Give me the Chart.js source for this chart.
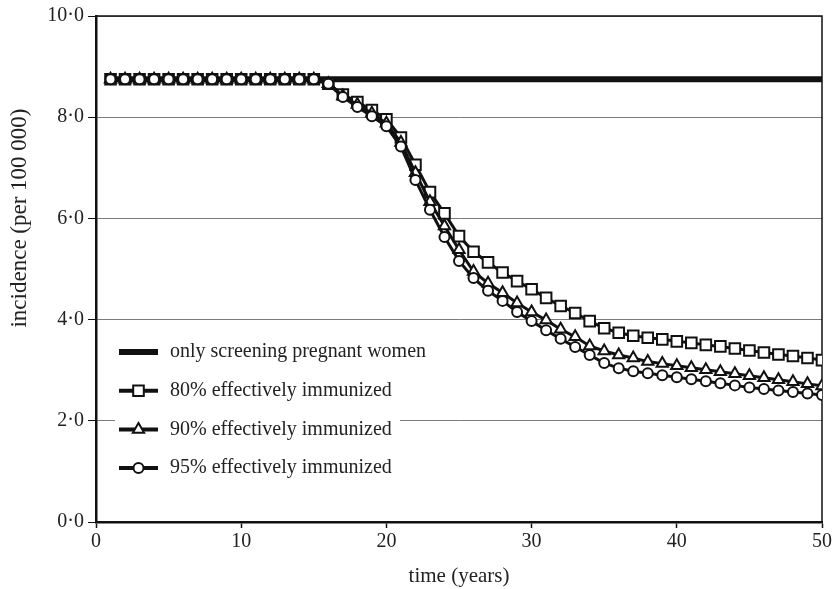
<!DOCTYPE html>
<html>
<head>
<meta charset="utf-8">
<script src="https://cdn.jsdelivr.net/npm/chart.js@4/dist/chart.umd.min.js"></script>
<style>
  html, body { margin: 0; padding: 0; background: #fff; }
  #wrap { width: 836px; height: 589px; position: relative; }
</style>
</head>
<body>
<div id="wrap"><canvas id="incidence-chart"></canvas></div>
<script>
const years = [
  1, 2, 3, 4, 5, 6, 7, 8, 9, 10, 11, 12, 13, 14, 15, 16, 17, 18, 19, 20, 21, 22, 23, 24, 25,
  26, 27, 28, 29, 30, 31, 32, 33, 34, 35, 36, 37, 38, 39, 40, 41, 42, 43, 44, 45, 46, 47, 48, 49, 50,
];

const onlyScreening = [
  8.75, 8.75, 8.75, 8.75, 8.75, 8.75, 8.75, 8.75, 8.75, 8.75, 8.75, 8.75, 8.75, 8.75, 8.75, 8.75, 8.75,
  8.75, 8.75, 8.75, 8.75, 8.75, 8.75, 8.75, 8.75, 8.75, 8.75, 8.75, 8.75, 8.75, 8.75, 8.75, 8.75, 8.75,
  8.75, 8.75, 8.75, 8.75, 8.75, 8.75, 8.75, 8.75, 8.75, 8.75, 8.75, 8.75, 8.75, 8.75, 8.75, 8.75,
];

const immunized80 = [
  8.75, 8.75, 8.75, 8.75, 8.75, 8.75, 8.75, 8.75, 8.75, 8.75, 8.75, 8.75, 8.75, 8.75, 8.75,
  8.66, 8.45, 8.30, 8.14, 7.96, 7.60, 7.06, 6.52, 6.10, 5.65, 5.34, 5.13, 4.93, 4.76, 4.60,
  4.43, 4.27, 4.13, 3.97, 3.83, 3.74, 3.68, 3.64, 3.61, 3.57, 3.54, 3.50, 3.47, 3.43, 3.39,
  3.35, 3.31, 3.28, 3.24, 3.20,
];

const immunized90 = [
  8.75, 8.75, 8.75, 8.75, 8.75, 8.75, 8.75, 8.75, 8.75, 8.75, 8.75, 8.75, 8.75, 8.75, 8.75,
  8.66, 8.42, 8.25, 8.08, 7.88, 7.50, 6.90, 6.33, 5.85, 5.38, 4.95, 4.72, 4.53, 4.33, 4.15,
  3.99, 3.81, 3.66, 3.48, 3.38, 3.30, 3.24, 3.17, 3.13, 3.09, 3.05, 3.01, 2.97, 2.93, 2.89,
  2.85, 2.81, 2.77, 2.73, 2.69,
];

const immunized95 = [
  8.75, 8.75, 8.75, 8.75, 8.75, 8.75, 8.75, 8.75, 8.75, 8.75, 8.75, 8.75, 8.75, 8.75, 8.75,
  8.66, 8.40, 8.20, 8.02, 7.82, 7.42, 6.76, 6.17, 5.63, 5.16, 4.82, 4.57, 4.37, 4.15, 3.97,
  3.79, 3.62, 3.46, 3.30, 3.14, 3.04, 2.98, 2.94, 2.90, 2.86, 2.82, 2.78, 2.74, 2.70, 2.66,
  2.63, 2.60, 2.57, 2.54, 2.51,
];

const seriesLabels = [
  'only screening pregnant women',
  '80% effectively immunized',
  '90% effectively immunized',
  '95% effectively immunized',
];

const yTicks = [0, 2, 4, 6, 8, 10];
const xTicks = [0, 10, 20, 30, 40, 50];

const SERIF = "'Liberation Serif', 'Times New Roman', Times, serif";
const INK = '#111';

Chart.defaults.font.family = SERIF;
Chart.defaults.font.size = 20;
Chart.defaults.color = '#222';

function toPoints(values) {
  return years.map((year, i) => ({ x: year, y: values[i] }));
}

function formatIncidence(value) {
  return value.toFixed(1).replace('.', '\u00b7');
}

function drawMarker(ctx, style, x, y, r) {
  ctx.beginPath();
  if (style === 'rect') {
    const s = r * Math.SQRT1_2;
    ctx.rect(x - s, y - s, 2 * s, 2 * s);
  } else if (style === 'triangle') {
    ctx.moveTo(x, y - r);
    ctx.lineTo(x + r * 0.866, y + r * 0.5);
    ctx.lineTo(x - r * 0.866, y + r * 0.5);
    ctx.closePath();
  } else {
    ctx.arc(x, y, r, 0, Math.PI * 2);
  }
  ctx.fillStyle = '#fff';
  ctx.fill();
  ctx.stroke();
}

// top + right frame, the y title (sits above centre in the original) and the legend box
const framePlugin = {
  id: 'frame',
  beforeDatasetsDraw(chart) {
    const { ctx, chartArea } = chart;
    ctx.save();
    ctx.strokeStyle = INK;
    ctx.lineWidth = 1.5;
    ctx.beginPath();
    ctx.moveTo(chartArea.left, chartArea.top);
    ctx.lineTo(chartArea.right, chartArea.top);
    ctx.lineTo(chartArea.right, chartArea.bottom);
    ctx.stroke();

    ctx.translate(20, chartArea.top + 202);
    ctx.rotate(-Math.PI / 2);
    ctx.fillStyle = '#222';
    ctx.font = `23px ${SERIF}`;
    ctx.textAlign = 'center';
    ctx.textBaseline = 'middle';
    ctx.fillText('incidence (per 100 000)', 0, 0);
    ctx.restore();
  },
  afterDatasetsDraw(chart) {
    const { ctx, chartArea } = chart;
    const boxLeft = chartArea.left + 19;
    const boxTop = chartArea.top + 318;
    ctx.save();
    ctx.fillStyle = '#fff';
    ctx.fillRect(boxLeft, boxTop, 285, 156);

    chart.data.datasets.forEach((ds, i) => {
      const rowY = boxTop + 18 + i * 38.7;
      const x0 = boxLeft + 4;
      const x1 = x0 + 39;
      ctx.strokeStyle = INK;
      ctx.lineWidth = i === 0 ? 6 : 4;
      ctx.beginPath();
      ctx.moveTo(x0, rowY);
      ctx.lineTo(x1, rowY);
      ctx.stroke();
      if (ds.pointRadius > 0) {
        ctx.lineWidth = 2;
        drawMarker(ctx, ds.pointStyle, (x0 + x1) / 2, rowY, ds.pointRadius);
      }
      ctx.fillStyle = '#222';
      ctx.font = `20px ${SERIF}`;
      ctx.textBaseline = 'middle';
      ctx.textAlign = 'left';
      ctx.fillText(ds.label, x1 + 12, rowY);
    });
    ctx.restore();
  },
};

const lineDataset = (label, values, pointStyle, pointRadius, order) => ({
  label,
  data: toPoints(values),
  borderColor: INK,
  borderWidth: 3,
  pointStyle,
  pointRadius,
  pointBorderWidth: 2,
  pointBorderColor: INK,
  pointBackgroundColor: '#fff',
  tension: 0,
  order,
});

new Chart(document.getElementById('incidence-chart'), {
  type: 'line',
  data: {
    datasets: [
      {
        label: seriesLabels[0],
        data: toPoints(onlyScreening),
        borderColor: INK,
        borderWidth: 6,
        pointRadius: 0,
        order: 3,
      },
      lineDataset(seriesLabels[1], immunized80, 'rect', 7.5, 2),
      lineDataset(seriesLabels[2], immunized90, 'triangle', 6.5, 1),
      lineDataset(seriesLabels[3], immunized95, 'circle', 5, 0),
    ],
  },
  options: {
    responsive: true,
    maintainAspectRatio: false,
    animation: false,
    layout: { padding: { top: 16, right: 14, bottom: 0, left: 0 } },
    plugins: {
      legend: { display: false },
      tooltip: { enabled: false },
    },
    scales: {
      x: {
        type: 'linear',
        min: 0,
        max: 50,
        afterBuildTicks(scale) {
          scale.ticks = xTicks.map((value) => ({ value }));
        },
        afterFit(scale) {
          scale.height = 67;
        },
        ticks: { color: '#222', padding: 2, maxRotation: 0 },
        grid: { drawOnChartArea: false, tickLength: 6, tickColor: INK, tickWidth: 1.5 },
        border: { color: INK, width: 2.5 },
        title: {
          display: true,
          text: 'time (years)',
          color: '#222',
          font: { size: 21 },
          padding: { top: 0, bottom: 0 },
        },
      },
      y: {
        min: 0,
        max: 10,
        afterBuildTicks(scale) {
          scale.ticks = yTicks.map((value) => ({ value }));
        },
        afterFit(scale) {
          scale.width = 96;
        },
        ticks: { color: '#222', padding: 4, callback: (v) => formatIncidence(v) },
        grid: { color: '#7a7a7a', lineWidth: 1, tickLength: 8, tickColor: INK },
        border: { color: INK, width: 2.5 },
      },
    },
  },
  plugins: [framePlugin],
});
</script>
</body>
</html>
